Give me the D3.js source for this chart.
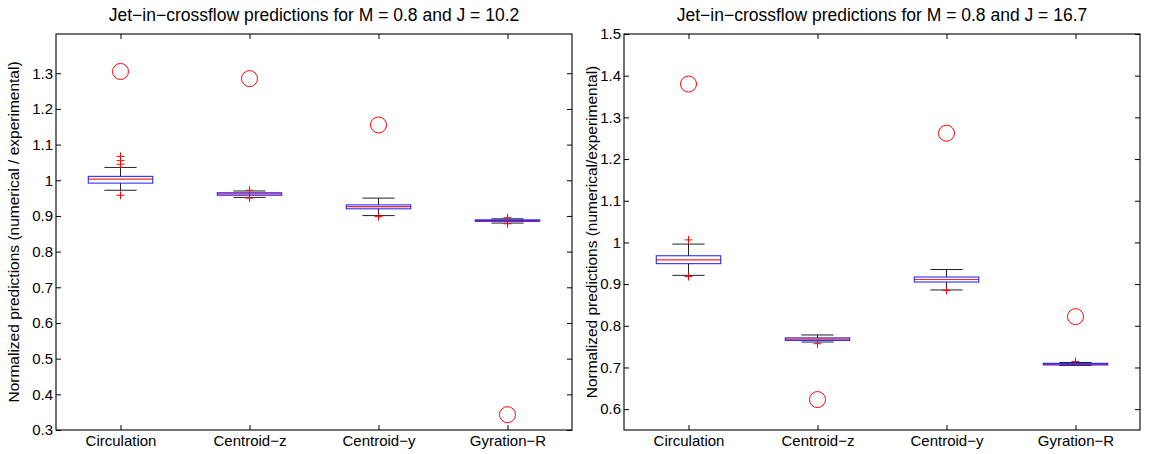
<!DOCTYPE html>
<html>
<head>
<meta charset="utf-8">
<script src="https://cdn.jsdelivr.net/npm/d3@7"></script>
<style>
  html, body { margin: 0; padding: 0; background: #fff; }
  svg { display: block; }
  text { font-family: "Liberation Sans", Arial, Helvetica, sans-serif; fill: #000; }
</style>
</head>
<body>
<svg id="chart" width="1156" height="454"></svg>
<script>
// Box-plot categories (shared by both panels)
const categories = ["Circulation", "Centroid\u2212z", "Centroid\u2212y", "Gyration\u2212R"];

// Panel A: M = 0.8, J = 10.2
const whiskerLowA  = [0.972, 0.952, 0.901, 0.880];
const quartile1A   = [0.992, 0.958, 0.920, 0.885];
const medianA      = [1.003, 0.962, 0.926, 0.887];
const quartile3A   = [1.011, 0.965, 0.931, 0.889];
const whiskerHighA = [1.036, 0.970, 0.950, 0.892];
const outliersA    = [[1.045, 1.055, 1.067, 0.958], [0.972, 0.950], [0.898], [0.895, 0.878]];
const referenceA   = [1.305, 1.285, 1.155, 0.343];
const yTicksA      = [0.3, 0.4, 0.5, 0.6, 0.7, 0.8, 0.9, 1.0, 1.1, 1.2, 1.3];

// Panel B: M = 0.8, J = 16.7
const whiskerLowB  = [0.921, 0.761, 0.886, 0.705];
const quartile1B   = [0.949, 0.765, 0.905, 0.706];
const medianB      = [0.958, 0.768, 0.911, 0.708];
const quartile3B   = [0.968, 0.771, 0.917, 0.710];
const whiskerHighB = [0.996, 0.778, 0.935, 0.712];
const outliersB    = [[1.006, 0.918], [0.757], [0.885], [0.714]];
const referenceB   = [1.380, 0.623, 1.262, 0.822];
const yTicksB      = [0.6, 0.7, 0.8, 0.9, 1.0, 1.1, 1.2, 1.3, 1.4, 1.5];

const panels = [
  {
    title: "Jet\u2212in\u2212crossflow predictions for M = 0.8 and J = 10.2",
    ylabel: "Normalized predictions (numerical / experimental)",
    x0: 56, x1: 572, y0: 34, y1: 430,
    yDomain: [0.3, 1.41], yTicks: yTicksA,
    lo: whiskerLowA, q1: quartile1A, med: medianA, q3: quartile3A, hi: whiskerHighA,
    out: outliersA, ref: referenceA, ylabelX: 15
  },
  {
    title: "Jet\u2212in\u2212crossflow predictions for M = 0.8 and J = 16.7",
    ylabel: "Normalized predictions (numerical/experimental)",
    x0: 624, x1: 1140, y0: 34, y1: 430,
    yDomain: [0.55, 1.5], yTicks: yTicksB,
    lo: whiskerLowB, q1: quartile1B, med: medianB, q3: quartile3B, hi: whiskerHighB,
    out: outliersB, ref: referenceB, ylabelX: 593
  }
];

const svg = d3.select("#chart");
const tickLen = 5;

panels.forEach(p => {
  const x = d3.scalePoint().domain(categories).range([p.x0, p.x1]).padding(0.5);
  const y = d3.scaleLinear().domain(p.yDomain).range([p.y1, p.y0]);
  const step = x.step();
  const boxW = step * 0.5;
  const capW = step * 0.25;
  const fmt = d => (d === 1 ? "1" : d3.format(".1f")(d));

  const g = svg.append("g");

  // Axes with inward ticks on all four sides
  const left = d3.axisLeft(y).tickValues(p.yTicks).tickSizeInner(-tickLen).tickSizeOuter(0).tickPadding(3).tickFormat(fmt);
  const right = d3.axisRight(y).tickValues(p.yTicks).tickSizeInner(-tickLen).tickSizeOuter(0).tickFormat("");
  const bottom = d3.axisBottom(x).tickSizeInner(-tickLen).tickSizeOuter(0).tickPadding(5);
  const top = d3.axisTop(x).tickSizeInner(-tickLen).tickSizeOuter(0).tickFormat("");

  const styleAxis = sel => {
    sel.select(".domain").remove();
    sel.selectAll("line").attr("stroke", "#000").attr("stroke-width", 1);
    sel.selectAll("text").attr("font-size", 15).style("font-family", "'Liberation Sans', Arial, sans-serif");
  };
  g.append("g").attr("transform", `translate(${p.x0},0)`).call(left).call(styleAxis);
  g.append("g").attr("transform", `translate(${p.x1},0)`).call(right).call(styleAxis);
  g.append("g").attr("transform", `translate(0,${p.y1})`).call(bottom).call(styleAxis);
  g.append("g").attr("transform", `translate(0,${p.y0})`).call(top).call(styleAxis);

  // Frame
  g.append("rect")
    .attr("x", p.x0).attr("y", p.y0)
    .attr("width", p.x1 - p.x0).attr("height", p.y1 - p.y0)
    .attr("fill", "none").attr("stroke", "#000").attr("stroke-width", 1.1);

  // Title and y label
  g.append("text")
    .attr("x", (p.x0 + p.x1) / 2).attr("y", 21)
    .attr("text-anchor", "middle").attr("font-size", 17.5)
    .text(p.title);
  g.append("text")
    .attr("transform", `translate(${p.ylabelX},${(p.y0 + p.y1) / 2}) rotate(-90)`)
    .attr("text-anchor", "middle").attr("dominant-baseline", "middle").attr("font-size", 15.5)
    .text(p.ylabel);

  categories.forEach((c, i) => {
    const cx = x(c);
    const b = g.append("g");
    // Whisker stems
    b.append("line").attr("x1", cx).attr("x2", cx).attr("y1", y(p.q3[i])).attr("y2", y(p.hi[i]))
      .attr("stroke", "#222").attr("stroke-width", 1);
    b.append("line").attr("x1", cx).attr("x2", cx).attr("y1", y(p.q1[i])).attr("y2", y(p.lo[i]))
      .attr("stroke", "#222").attr("stroke-width", 1);
    // Whisker caps
    [p.hi[i], p.lo[i]].forEach(v => {
      b.append("line").attr("x1", cx - capW / 2).attr("x2", cx + capW / 2).attr("y1", y(v)).attr("y2", y(v))
        .attr("stroke", "#222").attr("stroke-width", 1);
    });
    // Median (drawn beneath the box outline)
    b.append("line").attr("x1", cx - boxW / 2).attr("x2", cx + boxW / 2)
      .attr("y1", y(p.med[i])).attr("y2", y(p.med[i]))
      .attr("stroke", "#ff0000").attr("stroke-width", 1.2).attr("stroke-opacity", 0.85);
    // Box
    b.append("rect")
      .attr("x", cx - boxW / 2).attr("width", boxW)
      .attr("y", y(p.q3[i])).attr("height", Math.max(1, y(p.q1[i]) - y(p.q3[i])))
      .attr("fill", "none").attr("stroke", "#0000ff").attr("stroke-width", 1).attr("stroke-opacity", 0.9);
    // Outliers as red plus markers
    p.out[i].forEach(v => {
      b.append("path")
        .attr("d", `M${cx - 4},${y(v)}H${cx + 4}M${cx},${y(v) - 4}V${y(v) + 4}`)
        .attr("stroke", "#ff0000").attr("stroke-width", 1);
    });
    // Reference value as an open red circle
    b.append("circle").attr("cx", cx).attr("cy", y(p.ref[i])).attr("r", 8)
      .attr("fill", "none").attr("stroke", "#ff0000").attr("stroke-width", 1);
  });
});
</script>
</body>
</html>
